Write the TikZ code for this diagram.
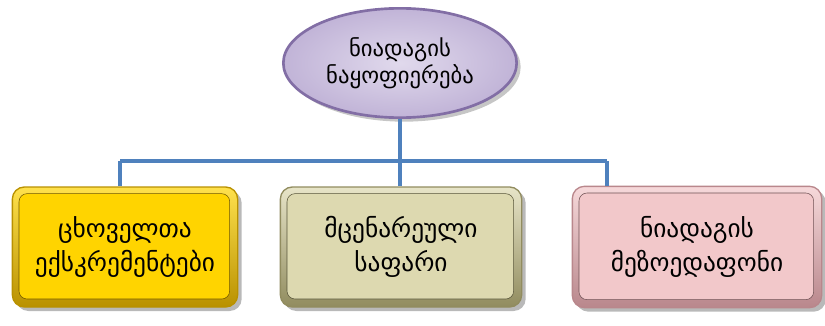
\documentclass[tikz,border=0pt]{standalone}
\usepackage{fontspec}
\newfontfamily\geofont[Script=Georgian]{DejaVu Sans}
\usetikzlibrary{shadows,shapes.geometric}

\definecolor{rootfill}{RGB}{204,192,224}
\definecolor{rootedge}{RGB}{130,110,165}
\definecolor{goldfill}{RGB}{255,212,0}
\definecolor{goldedge}{RGB}{185,145,0}
\definecolor{tanfill}{RGB}{221,217,176}
\definecolor{tanedge}{RGB}{145,140,95}
\definecolor{pinkfill}{RGB}{242,200,202}
\definecolor{pinkedge}{RGB}{185,135,140}
\definecolor{busblue}{RGB}{79,129,189}

\tikzset{
  bevelbox/.style 2 args={draw=#2, line width=1pt, rounded corners=9pt,
    top color=#1!70!white, bottom color=#2, align=center,
    drop shadow={shadow xshift=3pt, shadow yshift=-3pt, opacity=0.55},
    font=\geofont\fontsize{19}{25}\selectfont,
    path picture={\fill[#1, draw=#2!60!black, line width=0.4pt, rounded corners=6pt]
      ([shift={(5pt,-5pt)}]path picture bounding box.north west) rectangle
      ([shift={(-6pt,6pt)}]path picture bounding box.south east);}},
  bus/.style={busblue, line width=3.3pt},
}

\begin{document}
\begin{tikzpicture}[x=0.75pt,y=0.75pt,yscale=-1,xscale=1]
\useasboundingbox (0,0) rectangle (825,325);

%Shape: Ellipse
\node (root) [ellipse, minimum width=175pt, minimum height=82pt, draw=rootedge, line width=2pt,
  inner color=rootfill!60!white, outer color=rootfill!85!rootedge, align=center,
  drop shadow={shadow xshift=3pt, shadow yshift=-3pt, opacity=0.45},
  font=\geofont\fontsize{17}{20}\selectfont] at (400,63) {ნიადაგის\\ნაყოფიერება};

%Shape: Rectangle
\node (animal) [bevelbox={goldfill}{goldedge}, minimum width=169pt, minimum height=90pt] at (125,247) {ცხოველთა\\ექსკრემენტები};
%Shape: Rectangle
\node (plant) [bevelbox={tanfill}{tanedge}, minimum width=181pt, minimum height=90pt] at (401,247) {მცენარეული\\საფარი};
%Shape: Rectangle
\node (fauna) [bevelbox={pinkfill}{pinkedge}, minimum width=187pt, minimum height=91pt] at (697,247) {ნიადაგის\\მეზოედაფონი};

% bus lines
\coordinate (busmid) at (400,161);
\coordinate (busleft) at (120,161);
\coordinate (busright) at (607,161);
\draw [bus] (root.south) -- (busmid);
\draw [bus] (busleft) -- (busright);
\draw [bus] (busleft) -- (busleft |- animal.north);
\draw [bus] (busmid) -- (busmid |- plant.north);
\draw [bus] (busright) -- (busright |- fauna.north);

\end{tikzpicture}
\end{document}
